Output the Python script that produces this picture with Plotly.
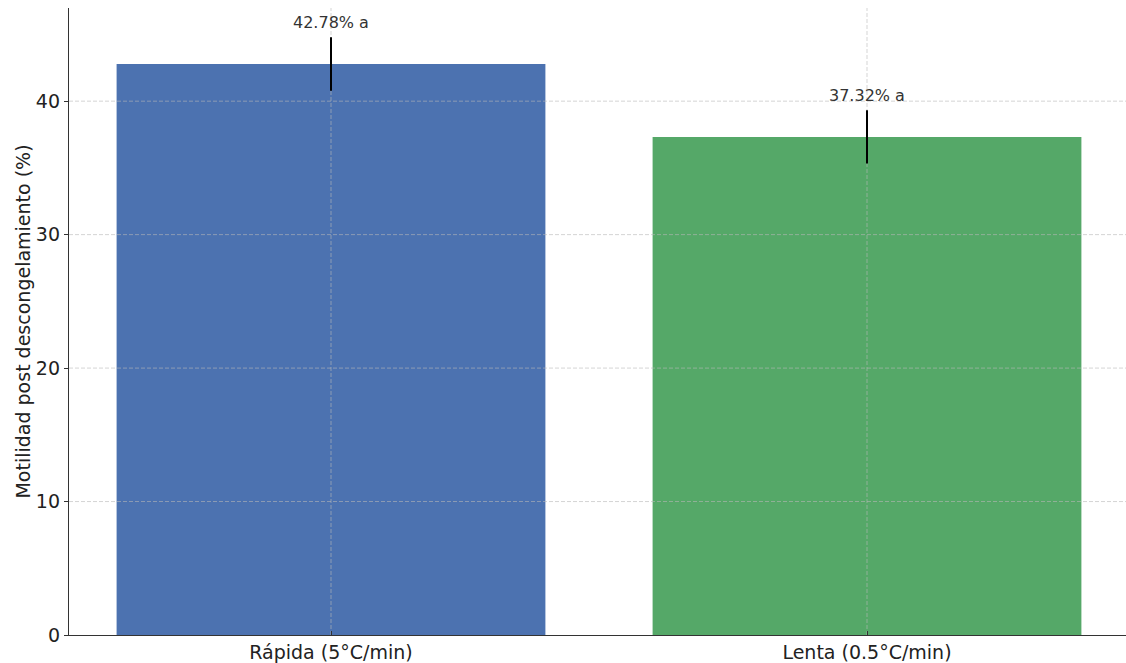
import plotly.graph_objects as go

categories = ["Rápida (5°C/min)", "Lenta (0.5°C/min)"]
means = [42.78, 37.32]
errors = [2.0, 2.0]
letters = ["a", "a"]
colors = ["#4C72B0", "#55A868"]
y_ticks = [0, 10, 20, 30, 40]

x_pos = list(range(len(categories)))
x_range = [-0.4888, 1.4832]
y_range = [0, 46.98]

fig = go.Figure()
# bars
fig.add_trace(go.Bar(
    x=x_pos, y=means, width=0.8,
    marker=dict(color=colors, line=dict(width=0)),
    showlegend=False, hoverinfo="skip",
))

# grid lines drawn above bars (matplotlib-like), below error bars
grid_line = dict(color="rgba(185,185,185,0.75)", width=0.8, dash="4px,2px")
gx, gy = [], []
for t in y_ticks[1:]:
    gx += [x_range[0], x_range[1], None]
    gy += [t, t, None]
for xp in x_pos:
    gx += [xp, xp, None]
    gy += [y_range[0], y_range[1], None]
fig.add_trace(go.Scatter(x=gx, y=gy, mode="lines", line=grid_line,
                         showlegend=False, hoverinfo="skip"))

# error bars
fig.add_trace(go.Scatter(
    x=x_pos, y=means, mode="markers",
    marker=dict(size=1, color="rgba(0,0,0,0)"),
    error_y=dict(type="data", array=errors, visible=True,
                 color="black", thickness=2, width=0),
    showlegend=False, hoverinfo="skip",
))

annotations = []
for xp, m, e, l in zip(x_pos, means, errors, letters):
    annotations.append(dict(x=xp, y=m + e + 0.5, xref="x", yref="y",
                            text=f"{m:.2f}% {l}", showarrow=False,
                            yanchor="bottom", xanchor="center", yshift=-3,
                            font=dict(family="DejaVu Sans", size=16, color="#333333")))

fig.update_layout(
    width=1126, height=663,
    margin=dict(l=69, r=0, t=8, b=26),
    plot_bgcolor="white", paper_bgcolor="white",
    font=dict(family="DejaVu Sans", size=19, color="#222222"),
    annotations=annotations,
)
fig.update_xaxes(
    range=x_range,
    tickmode="array", tickvals=x_pos, ticktext=categories,
    showgrid=False, zeroline=False,
    showline=True, linecolor="#333333", linewidth=1.3,
    ticks="inside", ticklen=4, tickcolor="#333333",
    tickfont=dict(family="DejaVu Sans", size=19, color="#222222"),
)
fig.update_yaxes(
    range=y_range,
    tickmode="array", tickvals=y_ticks,
    showgrid=False, zeroline=False,
    showline=True, linecolor="#333333", linewidth=1.3,
    ticks="outside", ticklen=4, tickcolor="#333333",
    tickfont=dict(family="DejaVu Sans", size=19, color="#222222"),
    title=dict(text="Motilidad post descongelamiento (%)",
               font=dict(family="DejaVu Sans", size=19, color="#222222"),
               standoff=0),
)

fig.write_html("out.html")
